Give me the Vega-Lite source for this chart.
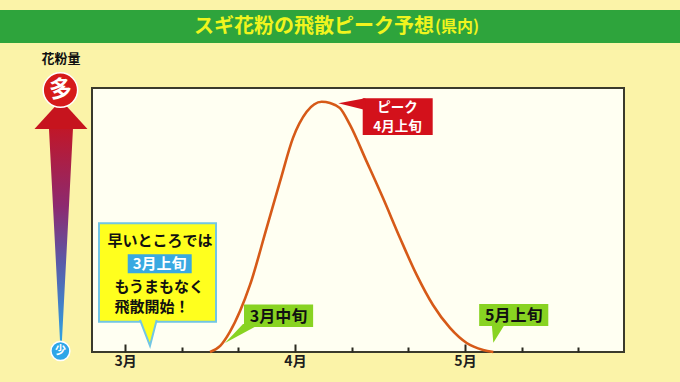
{
  "$schema": "https://vega.github.io/schema/vega-lite/v6.json",
  "autosize": "none",
  "width": 532,
  "height": 264,
  "padding": {"left": 92, "top": 88, "right": 56, "bottom": 30},
  "background": "#fbf3a8",
  "config": {
    "view": {"stroke": "#3a3a2c", "strokeWidth": 2, "fill": "#fffff2"},
    "font": "Noto Sans CJK JP",
    "text": {"font": "Noto Sans CJK JP", "fontWeight": "bold"}
  },
  "encoding": {
    "x": {"field": "x", "type": "quantitative", "scale": {"domain": [-0.5824, 8.806], "nice": false, "zero": false},
      "axis": {"title": null, "values": [0,1,2,3,4,5,6,7,8], "labelExpr": "datum.value == 0 ? '3月' : datum.value == 3 ? '4月' : datum.value == 6 ? '5月' : ''", "domain": false, "grid": false, "tickColor": "#2a2a20", "tickWidth": 2, "tickSize": {"condition": {"test": "datum.value % 3 === 0", "value": -8}, "value": -5}, "labelPadding": 10, "labelFontSize": 14, "labelFontWeight": "bold", "labelColor": "#1e1e1e", "labelFont": "Noto Sans CJK JP"}},
    "y": {"field": "y", "type": "quantitative", "scale": {"domain": [0, 100], "nice": false, "zero": false}, "axis": null}
  },
  "layer": [
    {
      "data": {"values": [{"x": -2.4, "x2": 10.0, "y": 117.0, "y2": 129.5}]},
      "mark": {"type": "rect", "color": "#2ea43c"},
      "encoding": {"x2": {"field": "x2"}, "y2": {"field": "y2"}}
    },
    {
      "data": {"values": [{"x": 5.453, "y": 123.2, "t": "スギ花粉の飛散ピーク予想"}]},
      "mark": {"type": "text", "align": "right", "baseline": "middle", "fontSize": 20, "color": "#f0f41e"},
      "encoding": {"text": {"field": "t"}}
    },
    {
      "data": {"values": [{"x": 5.47, "y": 123.0, "t": "(県内)"}]},
      "mark": {"type": "text", "align": "left", "baseline": "middle", "fontSize": 16, "color": "#f0f41e"},
      "encoding": {"text": {"field": "t"}}
    },
    {
      "data": {"values": [{"x": -1.13, "y": 111.0, "t": "花粉量"}]},
      "mark": {"type": "text", "align": "center", "baseline": "middle", "fontSize": 13, "color": "#111111"},
      "encoding": {"text": {"field": "t"}}
    },
    {
      "data": {"values": [{"x": -1.13, "y": 4.5, "amount": 0}, {"x": -1.13, "y": 84.6, "amount": 1}]},
      "mark": {"type": "trail", "color": {"gradient": "linear", "x1": 0, "y1": 1, "x2": 0, "y2": 0, "stops": [{"offset": 0, "color": "#2fa2e2"}, {"offset": 0.35, "color": "#5a5aa8"}, {"offset": 0.6, "color": "#8c2a70"}, {"offset": 1, "color": "#c8141e"}]}},
      "encoding": {
        "size": {"field": "amount", "type": "quantitative", "scale": {"domain": [0, 1], "range": [2, 24]}, "legend": null}
      }
    },
    {
      "data": {"values": [{"x": -1.13, "y": 89.96}]},
      "mark": {"type": "point", "filled": true, "opacity": 1, "shape": "M0,-0.55 L1,0.55 L-1,0.55 Z", "size": 2809, "color": "#c6141e"}
    },
    {
      "data": {"values": [{"x": -1.14, "y": 99.2, "t": "多"}]},
      "mark": {"type": "point", "filled": true, "opacity": 1, "shape": "circle", "size": 1190, "fill": "#d61a1a", "stroke": "#ffffff", "strokeWidth": 1.5}
    },
    {
      "data": {"values": [{"x": -1.14, "y": 99.2, "t": "多"}]},
      "mark": {"type": "text", "align": "center", "baseline": "middle", "fontSize": 23, "color": "#ffffff"},
      "encoding": {"text": {"field": "t"}}
    },
    {
      "data": {"values": [{"x": -1.14, "y": 0.4, "t": "少"}]},
      "mark": {"type": "point", "filled": true, "opacity": 1, "shape": "circle", "size": 361, "fill": "#2ea6e8", "stroke": "#ffffff", "strokeWidth": 1.5}
    },
    {
      "data": {"values": [{"x": -1.14, "y": 0.4, "t": "少"}]},
      "mark": {"type": "text", "align": "center", "baseline": "middle", "fontSize": 11, "color": "#ffffff"},
      "encoding": {"text": {"field": "t"}}
    },
    {
      "data": {"values": [
        {"x": 1.50, "y": 0},
        {"x": 1.68, "y": 2.3},
        {"x": 1.853, "y": 7.7},
        {"x": 2.03, "y": 15.5},
        {"x": 2.206, "y": 25.4},
        {"x": 2.50, "y": 47.0},
        {"x": 2.735, "y": 64.5},
        {"x": 2.965, "y": 81.1},
        {"x": 3.206, "y": 91.0},
        {"x": 3.471, "y": 94.8},
        {"x": 3.618, "y": 94.3},
        {"x": 3.794, "y": 92.4},
        {"x": 3.971, "y": 86.0},
        {"x": 4.265, "y": 72.1},
        {"x": 4.553, "y": 58.3},
        {"x": 4.853, "y": 43.2},
        {"x": 5.147, "y": 29.2},
        {"x": 5.435, "y": 17.8},
        {"x": 5.735, "y": 9.1},
        {"x": 6.03, "y": 3.4},
        {"x": 6.32, "y": 0.8},
        {"x": 6.50, "y": 0}
      ]},
      "mark": {"type": "line", "interpolate": "monotone", "color": "#d65a18", "strokeWidth": 2.6}
    },
    {
      "data": {"values": [{"x": -0.459, "x2": 1.606, "y": 11.48, "y2": 48.75}]},
      "mark": {"type": "rect", "fill": "#ffff1e", "stroke": "#72c6e4", "strokeWidth": 2},
      "encoding": {"x2": {"field": "x2"}, "y2": {"field": "y2"}}
    },
    {
      "data": {"values": [{"x": 0.441, "y": 2.39}]},
      "mark": {"type": "point", "filled": true, "opacity": 1, "shape": "M-0.333,-0.86 L0,0 L0.223,-0.86", "size": 3600, "fill": "#ffff1e", "stroke": "#72c6e4", "strokeWidth": 2}
    },
    {
      "data": {"values": [{"x": 0.048, "x2": 1.177, "y": 29.8, "y2": 37.0}]},
      "mark": {"type": "rect", "fill": "#39a9e1"},
      "encoding": {"x2": {"field": "x2"}, "y2": {"field": "y2"}}
    },
    {
      "data": {"values": [{"x": 0.618, "y": 42.0, "t": "早いところでは"}]},
      "mark": {"type": "text", "align": "center", "baseline": "middle", "fontSize": 15, "color": "#111111"},
      "encoding": {"text": {"field": "t"}}
    },
    {
      "data": {"values": [{"x": 0.612, "y": 33.4, "t": "3月上旬"}]},
      "mark": {"type": "text", "align": "center", "baseline": "middle", "fontSize": 15, "color": "#ffffff"},
      "encoding": {"text": {"field": "t"}}
    },
    {
      "data": {"values": [{"x": -0.185, "y": 24.6, "t": "もうまもなく"}, {"x": -0.185, "y": 17.0, "t": "飛散開始！"}]},
      "mark": {"type": "text", "align": "left", "baseline": "middle", "fontSize": 15, "color": "#111111"},
      "encoding": {"text": {"field": "t"}}
    },
    {
      "data": {"values": [{"x": 2.10, "x2": 3.32, "y": 9.47, "y2": 18.0}, {"x": 6.25, "x2": 7.47, "y": 9.85, "y2": 18.2}]},
      "mark": {"type": "rect", "fill": "#88d322"},
      "encoding": {"x2": {"field": "x2"}, "y2": {"field": "y2"}}
    },
    {
      "data": {"values": [{"x": 1.765, "y": 3.41}]},
      "mark": {"type": "point", "filled": true, "opacity": 1, "shape": "M0.6,-0.63 L0,0 L1.167,-0.63 Z", "size": 3600, "fill": "#88d322"}
    },
    {
      "data": {"values": [{"x": 6.50, "y": 3.52}]},
      "mark": {"type": "point", "filled": true, "opacity": 1, "shape": "M-0.053,-0.62 L0,0 L0.39,-0.62 Z", "size": 3600, "fill": "#88d322"}
    },
    {
      "data": {"values": [{"x": 2.71, "y": 13.2, "t": "3月中旬"}, {"x": 6.86, "y": 13.5, "t": "5月上旬"}]},
      "mark": {"type": "text", "align": "center", "baseline": "middle", "fontSize": 16, "color": "#111111"},
      "encoding": {"text": {"field": "t"}}
    },
    {
      "data": {"values": [{"x": 4.195, "x2": 5.43, "y": 82.2, "y2": 96.1}]},
      "mark": {"type": "rect", "fill": "#d3111b"},
      "encoding": {"x2": {"field": "x2"}, "y2": {"field": "y2"}}
    },
    {
      "data": {"values": [{"x": 3.764, "y": 94.2}]},
      "mark": {"type": "point", "filled": true, "opacity": 1, "shape": "M0.9,-0.167 L0,0 L0.9,0.223 Z", "size": 3600, "fill": "#d3111b"}
    },
    {
      "data": {"values": [{"x": 4.81, "y": 92.4, "t": "ピーク"}, {"x": 4.81, "y": 85.4, "t": "4月上旬"}]},
      "mark": {"type": "text", "align": "center", "baseline": "middle", "fontSize": 13.5, "color": "#ffffff"},
      "encoding": {"text": {"field": "t"}}
    }
  ]
}
